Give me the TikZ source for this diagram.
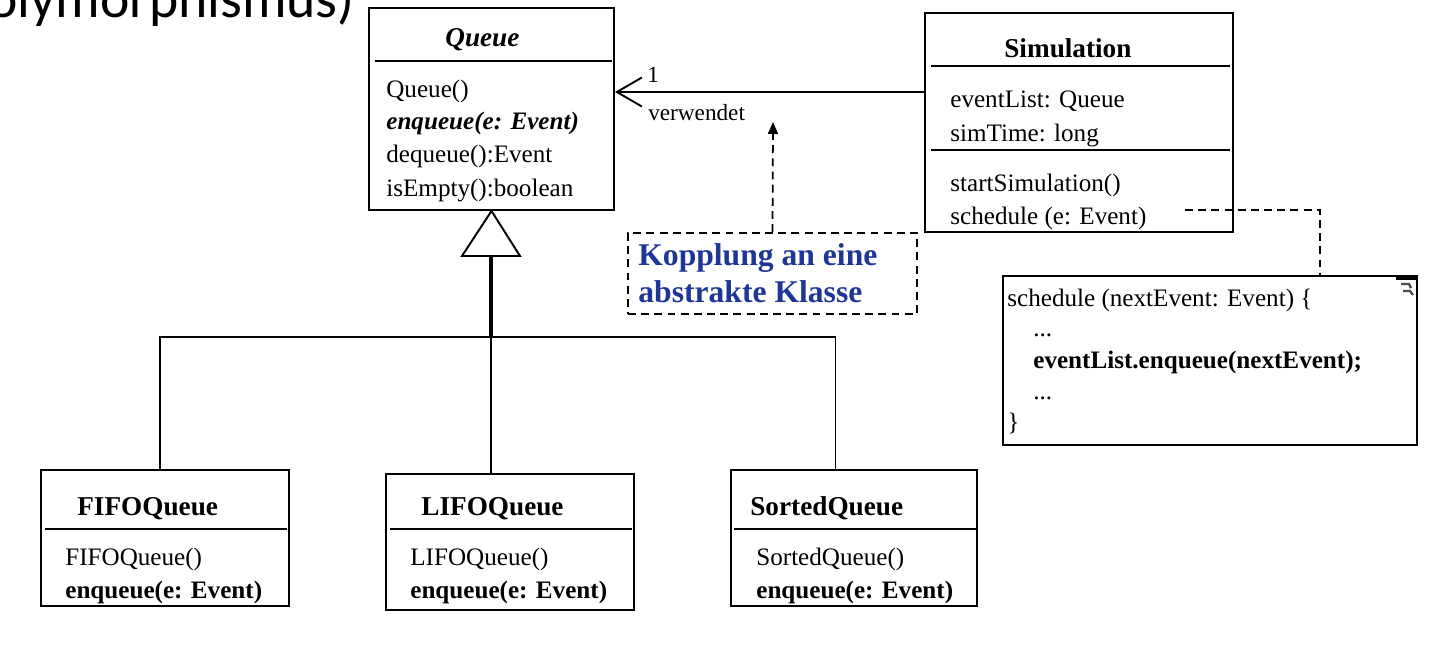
\documentclass[tikz,border=0pt]{standalone}
\usepackage{fontspec}
\setmainfont{Liberation Serif}
\newfontfamily\folienfont{Carlito}
\usepackage{tikz}
\usetikzlibrary{arrows.meta,positioning}
\usepackage{xcolor}
\definecolor{hinweisblau}{RGB}{30,55,150}

\tikzset{
  klasse/.style={draw, line width=1.1pt, fill=white, inner sep=0pt},
  kopf/.style={font=\fontsize{15.5}{18}\selectfont\bfseries, anchor=base west, inner sep=0pt},
  eintrag/.style={font=\fontsize{14.3}{18}\selectfont, anchor=base west, inner sep=0pt},
  trenner/.style={line width=1.1pt},
  verbindung/.style={line width=1.1pt},
  gestrichelt/.style={line width=1pt, dash pattern=on 4.5pt off 3pt},
}

\begin{document}
\begin{tikzpicture}[x=0.02cm, y=-0.02cm]
        \useasboundingbox (0,0) rectangle (1438,660);
        % Folientitel (abgeschnitten)
        \node[font=\folienfont\fontsize{31.7}{34}\selectfont, anchor=base east, inner sep=0pt] (titel) at (355,17) {olymorphismus)};
        % Abstrakte Klasse Queue
        \node[klasse, minimum width=4.9cm, minimum height=4.04cm] (queue) at (491.5,109) {};
        \node[kopf, font=\fontsize{15.5}{18}\selectfont\bfseries\itshape] (queueKopf) at (445,46) {Queue};
        \draw[trenner] (375,61) -- (612,61);
        \node[eintrag] (q1) at (386,97) {Queue()};
        \node[eintrag, font=\fontsize{14.3}{18}\selectfont\bfseries\itshape] (q2) at (386,129) {enqueue(e: Event)};
        \node[eintrag] (q3) at (386,162) {dequeue():Event};
        \node[eintrag] (q4) at (386,196) {isEmpty():boolean};
        % Klasse Simulation
        \node[klasse, minimum width=6.16cm, minimum height=4.38cm] (sim) at (1079,122.5) {};
        \node[kopf] (simKopf) at (1004,57) {Simulation};
        \draw[trenner] (931,66) -- (1230,66);
        \draw[trenner] (931,150) -- (1230,150);
        \node[eintrag] (s1) at (950,107) {eventList: Queue};
        \node[eintrag] (s2) at (950,141) {simTime: long};
        \node[eintrag] (s3) at (950,191) {startSimulation()};
        \node[eintrag] (s4) at (950,224) {schedule (e: Event)};
        % Assoziation verwendet
        \draw[verbindung, -{Straight Barb[length=0.5cm, width=0.58cm]}] ([yshift=0.61cm]sim.west) -- ([yshift=0.61cm]sim.west -| queue.east);
        \node[eintrag, font=\fontsize{13.2}{16}\selectfont] (mult) at (647,82) {1};
        \node[eintrag, font=\fontsize{13.2}{16}\selectfont] (verw) at (648,120) {verwendet};
        % Hinweis Kopplung
        \node[draw, gestrichelt, minimum width=5.78cm, minimum height=1.62cm] (kopp) at (772.5,273.5) {};
        \node[eintrag, font=\fontsize{18}{21}\selectfont\bfseries, text=hinweisblau] (k1) at (638,265) {Kopplung an eine};
        \node[eintrag, font=\fontsize{18}{21}\selectfont\bfseries, text=hinweisblau] (k2) at (638,302) {abstrakte Klasse};
        \coordinate (hinweisZiel) at (773,122);
        \draw[gestrichelt, -{Triangle[length=0.24cm, width=0.2cm]}] (kopp.north) -- (hinweisZiel);
        % Notiz zu schedule
        \node[klasse, minimum width=8.28cm, minimum height=3.38cm] (notiz) at (1210,360.5) {};
        \fill (1396,276) rectangle (1416,279.5);
        \draw[gray!60!black, line width=1.3pt] (1401,284) -- (1409,284) -- (1411,288) (1403,291) -- (1410,291) -- (1413,295);
        \node[eintrag] (n1) at (1007,306) {schedule (nextEvent: Event) \{};
        \node[eintrag] (n2) at (1033,336) {...};
        \node[eintrag, font=\fontsize{14.3}{18}\selectfont\bfseries] (n3) at (1033,368) {eventList.enqueue(nextEvent);};
        \node[eintrag] (n4) at (1033,399) {...};
        \node[eintrag] (n5) at (1007,430) {\}};
        \coordinate (schedEnde) at (1185,210);
        \draw[gestrichelt] (schedEnde) -| ([xshift=2.2cm]notiz.north);
        % Unterklassen
        \node[klasse, minimum width=4.96cm, minimum height=2.72cm] (fifo) at (165,538) {};
        \node[kopf] (fifoKopf) at (77,515) {FIFOQueue};
        \draw[trenner] (45,529) -- (287,529);
        \node[eintrag] (f1) at (65,565) {FIFOQueue()};
        \node[eintrag, font=\fontsize{14.3}{18}\selectfont\bfseries] (f2) at (65,598) {enqueue(e: Event)};
        \node[klasse, minimum width=4.96cm, minimum height=2.72cm] (lifo) at (510,542) {};
        \node[kopf] (lifoKopf) at (421,515) {LIFOQueue};
        \draw[trenner] (390,529) -- (632,529);
        \node[eintrag] (l1) at (410,565) {LIFOQueue()};
        \node[eintrag, font=\fontsize{14.3}{18}\selectfont\bfseries] (l2) at (410,598) {enqueue(e: Event)};
        \node[klasse, minimum width=4.92cm, minimum height=2.72cm] (sorted) at (854,538) {};
        \node[kopf] (sortedKopf) at (750,515) {SortedQueue};
        \draw[trenner] (734,529) -- (976,529);
        \node[eintrag] (o1) at (756,565) {SortedQueue()};
        \node[eintrag, font=\fontsize{14.3}{18}\selectfont\bfseries] (o2) at (756,598) {enqueue(e: Event)};
        % Vererbung
        \coordinate (gen) at (491,256);
        \coordinate (split) at (491,337);
        \draw[line width=1.1pt, fill=white] (queue.south) -- (520,256) -- (462,256) -- cycle;
        \draw[line width=1.9pt] (gen) -- (split);
        \draw[verbindung] (split) -- (split |- lifo.north);
        \draw[verbindung] ([xshift=-0.1cm]fifo.north) |- (split) -| ([xshift=-0.37cm]sorted.north);
    \end{tikzpicture}
\end{document}
